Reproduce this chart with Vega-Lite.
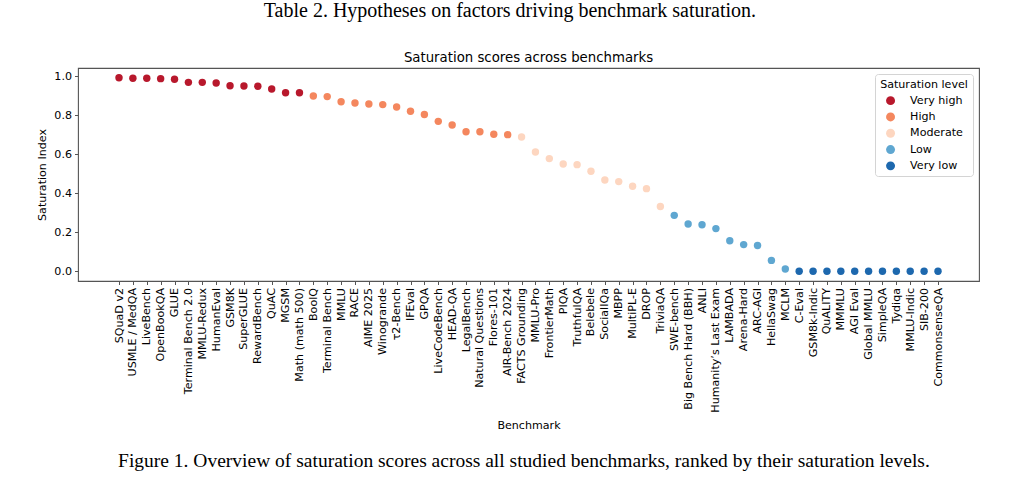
{
  "$schema": "https://vega.github.io/schema/vega-lite/v6.json",
  "padding": {"left": 36, "top": 1, "right": 5, "bottom": 5},
  "title": {
    "text": "Table 2. Hypotheses on factors driving benchmark saturation.",
    "font": "Liberation Serif",
    "fontSize": 20,
    "fontWeight": "normal",
    "color": "#000000",
    "anchor": "middle",
    "frame": "bounds",
    "dx": 2,
    "offset": 29
  },
  "config": {
    "view": {"stroke": "#555555", "strokeWidth": 1.1},
    "font": "DejaVu Sans",
    "axis": {
      "labelFont": "DejaVu Sans",
      "titleFont": "DejaVu Sans",
      "labelFontSize": 11.1,
      "titleFontSize": 11.1,
      "titleFontWeight": "normal",
      "labelColor": "#000000",
      "titleColor": "#000000",
      "tickColor": "#555555",
      "tickSize": 3.5,
      "labelPadding": 3,
      "domain": false,
      "grid": false
    },
    "legend": {
      "labelFont": "DejaVu Sans",
      "titleFont": "DejaVu Sans"
    }
  },
  "vconcat": [
    {
      "title": {
        "text": "Figure 1. Overview of saturation scores across all studied benchmarks, ranked by their saturation levels.",
        "orient": "bottom",
        "font": "Liberation Serif",
        "fontSize": 19.5,
        "fontWeight": "normal",
        "color": "#000000",
        "anchor": "middle",
        "frame": "bounds",
        "dx": 16,
        "offset": 21
      },
      "vconcat": [
        {
          "width": 901,
          "height": 213,
          "title": {
            "text": "Saturation scores across benchmarks",
            "font": "DejaVu Sans",
            "fontSize": 13.3,
            "fontWeight": "normal",
            "color": "#000000",
            "anchor": "middle",
            "frame": "group",
            "offset": 4
          },
          "data": {
            "values": [
              {"benchmark": "SQuaD v2", "score": 0.993, "level": "Very high"},
              {"benchmark": "USMLE / MedQA", "score": 0.99, "level": "Very high"},
              {"benchmark": "LiveBench", "score": 0.99, "level": "Very high"},
              {"benchmark": "OpenBookQA", "score": 0.988, "level": "Very high"},
              {"benchmark": "GLUE", "score": 0.985, "level": "Very high"},
              {"benchmark": "Terminal Bench 2.0", "score": 0.969, "level": "Very high"},
              {"benchmark": "MMLU-Redux", "score": 0.969, "level": "Very high"},
              {"benchmark": "HumanEval", "score": 0.966, "level": "Very high"},
              {"benchmark": "GSM8K", "score": 0.952, "level": "Very high"},
              {"benchmark": "SuperGLUE", "score": 0.95, "level": "Very high"},
              {"benchmark": "RewardBench", "score": 0.949, "level": "Very high"},
              {"benchmark": "QuAC", "score": 0.935, "level": "Very high"},
              {"benchmark": "MGSM", "score": 0.916, "level": "Very high"},
              {"benchmark": "Math (math 500)", "score": 0.916, "level": "Very high"},
              {"benchmark": "BoolQ", "score": 0.899, "level": "High"},
              {"benchmark": "Terminal Bench", "score": 0.896, "level": "High"},
              {"benchmark": "MMLU", "score": 0.87, "level": "High"},
              {"benchmark": "RACE", "score": 0.863, "level": "High"},
              {"benchmark": "AIME 2025", "score": 0.858, "level": "High"},
              {"benchmark": "Winogrande", "score": 0.855, "level": "High"},
              {"benchmark": "τ2-Bench", "score": 0.843, "level": "High"},
              {"benchmark": "IFEval", "score": 0.821, "level": "High"},
              {"benchmark": "GPQA", "score": 0.804, "level": "High"},
              {"benchmark": "LiveCodeBench", "score": 0.769, "level": "High"},
              {"benchmark": "HEAD-QA", "score": 0.75, "level": "High"},
              {"benchmark": "LegalBench", "score": 0.716, "level": "High"},
              {"benchmark": "Natural Questions", "score": 0.716, "level": "High"},
              {"benchmark": "Flores-101", "score": 0.703, "level": "High"},
              {"benchmark": "AIR-Bench 2024", "score": 0.701, "level": "High"},
              {"benchmark": "FACTS Grounding", "score": 0.689, "level": "Moderate"},
              {"benchmark": "MMLU-Pro", "score": 0.612, "level": "Moderate"},
              {"benchmark": "FrontierMath", "score": 0.578, "level": "Moderate"},
              {"benchmark": "PIQA", "score": 0.55, "level": "Moderate"},
              {"benchmark": "TruthfulQA", "score": 0.547, "level": "Moderate"},
              {"benchmark": "Belebele", "score": 0.513, "level": "Moderate"},
              {"benchmark": "SocialIQa", "score": 0.468, "level": "Moderate"},
              {"benchmark": "MBPP", "score": 0.46, "level": "Moderate"},
              {"benchmark": "MultiPL-E", "score": 0.436, "level": "Moderate"},
              {"benchmark": "DROP", "score": 0.424, "level": "Moderate"},
              {"benchmark": "TriviaQA", "score": 0.332, "level": "Moderate"},
              {"benchmark": "SWE-bench", "score": 0.287, "level": "Low"},
              {"benchmark": "Big Bench Hard (BBH)", "score": 0.243, "level": "Low"},
              {"benchmark": "ANLI", "score": 0.239, "level": "Low"},
              {"benchmark": "Humanity’s Last Exam", "score": 0.219, "level": "Low"},
              {"benchmark": "LAMBADA", "score": 0.157, "level": "Low"},
              {"benchmark": "Arena-Hard", "score": 0.137, "level": "Low"},
              {"benchmark": "ARC-AGI", "score": 0.132, "level": "Low"},
              {"benchmark": "HellaSwag", "score": 0.056, "level": "Low"},
              {"benchmark": "MCLM", "score": 0.012, "level": "Low"},
              {"benchmark": "C-Eval", "score": 0.0, "level": "Very low"},
              {"benchmark": "GSM8k-Indic", "score": 0.0, "level": "Very low"},
              {"benchmark": "QuALITY", "score": 0.0, "level": "Very low"},
              {"benchmark": "MMMLU", "score": 0.0, "level": "Very low"},
              {"benchmark": "AGI Eval", "score": 0.0, "level": "Very low"},
              {"benchmark": "Global MMLU", "score": 0.0, "level": "Very low"},
              {"benchmark": "SimpleQA", "score": 0.0, "level": "Very low"},
              {"benchmark": "Tydiqa", "score": 0.0, "level": "Very low"},
              {"benchmark": "MMLU-Indic", "score": 0.0, "level": "Very low"},
              {"benchmark": "SIB-200", "score": 0.0, "level": "Very low"},
              {"benchmark": "CommonsenseQA", "score": 0.0, "level": "Very low"}
            ]
          },
          "mark": {"type": "circle", "size": 55, "opacity": 1},
          "encoding": {
            "x": {
              "field": "benchmark",
              "type": "nominal",
              "sort": null,
              "scale": {"type": "point", "padding": 0, "range": [41, 860]},
              "axis": {"title": "Benchmark", "labelAngle": -90, "titlePadding": 7}
            },
            "y": {
              "field": "score",
              "type": "quantitative",
              "scale": {"domain": [-0.0497, 1.0427], "nice": false, "zero": false},
              "axis": {"title": "Saturation Index", "values": [0, 0.2, 0.4, 0.6, 0.8, 1.0], "format": ".1f", "titlePadding": 6}
            },
            "color": {
              "field": "level",
              "type": "nominal",
              "scale": {
                "domain": ["Very high", "High", "Moderate", "Low", "Very low"],
                "range": ["#b8182c", "#f4875e", "#fdd6c0", "#5fa7d1", "#1d68ae"]
              },
              "legend": {
                "title": "Saturation level",
                "orient": "top-right",
                "offset": 6,
                "fillColor": "#ffffff",
                "strokeColor": "#d4d4d4",
                "cornerRadius": 3,
                "padding": 5,
                "titleFontSize": 11.1,
                "titleFontWeight": "normal",
                "titleColor": "#000000",
                "titleAnchor": "middle",
                "labelFontSize": 11.1,
                "labelColor": "#000000",
                "symbolType": "circle",
                "symbolSize": 80,
                "symbolOpacity": 1,
                "symbolStrokeWidth": 0,
                "rowPadding": 4.3,
                "labelOffset": 14
              }
            }
          }
        }
      ]
    }
  ]
}
